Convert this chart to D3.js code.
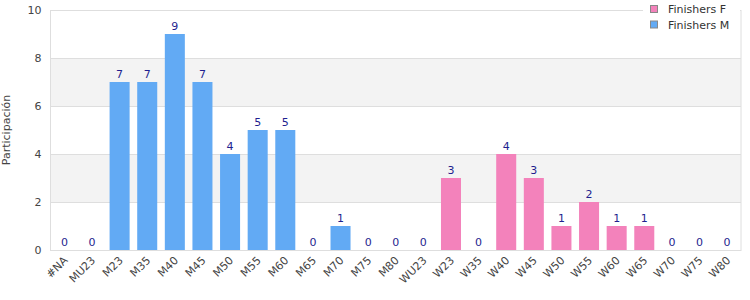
<!DOCTYPE html>
<html><head><meta charset="utf-8">
<script src="https://cdn.jsdelivr.net/npm/d3@7"></script>
<style>body{margin:0;background:#fff}svg{display:block;font-family:"DejaVu Sans",sans-serif}</style>
</head><body><svg id="c" width="750" height="300"></svg>
<script>
const categories = ["#NA","MU23","M23","M35","M40","M45","M50","M55","M60","M65","M70","M75","M80","WU23","W23","W35","W40","W45","W50","W55","W60","W65","W70","W75","W80"];
const finishersM = [0,0,7,7,9,7,4,5,5,0,1,0,0,null,null,null,null,null,null,null,null,null,null,null,null];
const finishersF = [null,null,null,null,null,null,null,null,null,null,null,null,null,0,3,0,4,3,1,2,1,1,0,0,0];
const yTicks = [0,2,4,6,8,10];
const seriesNames = ["Finishers F","Finishers M"];
const colors = {"Finishers F":"#f382bb","Finishers M":"#62aaf4"};

const svg = d3.select("#c");
const m = {l:50.5, r:741, t:10, b:250};
const x = d3.scaleBand().domain(categories).range([m.l, m.r]).paddingInner(0.275).paddingOuter(0.14);
const y = d3.scaleLinear().domain([0,10]).range([m.b, m.t]);

// bands
for (let i = 0; i < yTicks.length-1; i++) {
  if (i % 2 === 1) {
    svg.append("rect").attr("x", m.l).attr("width", m.r-m.l)
      .attr("y", y(yTicks[i+1])).attr("height", y(yTicks[i]) - y(yTicks[i+1]))
      .attr("fill", "#f3f3f3");
  }
}
// gridlines
svg.append("g").selectAll("line").data(yTicks).join("line")
  .attr("x1", m.l).attr("x2", m.r).attr("y1", d => Math.round(y(d))+0.5).attr("y2", d => Math.round(y(d))+0.5)
  .attr("stroke", "#dedede");
// plot border
svg.append("rect").attr("x", m.l).attr("y", m.t+0.5).attr("width", m.r-m.l).attr("height", m.b-m.t)
  .attr("fill","none").attr("stroke","#dedede");

// y axis labels
const yAxis = d3.axisLeft(y).tickValues(yTicks).tickSize(0).tickPadding(9);
const yg = svg.append("g").attr("transform", `translate(${m.l},0)`).call(yAxis);
yg.select(".domain").remove();
yg.selectAll("text").attr("font-size", 11).attr("fill", "#444").attr("font-family", "DejaVu Sans, sans-serif");

// x axis labels
const xAxis = d3.axisBottom(x).tickSize(0).tickPadding(0);
const xg = svg.append("g").attr("transform", `translate(0,${m.b})`).call(xAxis);
xg.select(".domain").remove();
xg.selectAll("text").attr("font-size", 11).attr("fill", "#444").attr("font-family", "DejaVu Sans, sans-serif")
  .attr("text-anchor", "end").attr("dy", null).attr("y", 0)
  .attr("transform", "translate(4,11) rotate(-45)");

// y title
svg.append("text").attr("transform", `translate(9.5,${(m.t+m.b)/2}) rotate(-90)`)
  .attr("text-anchor","middle").attr("font-size", 11).attr("fill", "#444").text("Participación");

// bars
const series = [{name:"Finishers F", vals: finishersF}, {name:"Finishers M", vals: finishersM}];
series.forEach(s => {
  const data = categories.map((c,i) => ({c, v: s.vals[i]})).filter(d => d.v !== null);
  svg.append("g").selectAll("rect").data(data.filter(d => d.v > 0)).join("rect")
    .attr("x", d => x(d.c)).attr("width", x.bandwidth())
    .attr("y", d => y(d.v)).attr("height", d => y(0) - y(d.v))
    .attr("fill", colors[s.name]);
  svg.append("g").selectAll("text").data(data).join("text")
    .attr("x", d => x(d.c) + x.bandwidth()/2).attr("y", d => y(d.v) - 4)
    .attr("text-anchor","middle").attr("font-size", 11).attr("fill", "#1f1f8f").text(d => d.v);
});

// legend
const lg = svg.append("g");
lg.append("rect").attr("x", 643).attr("y", 0).attr("width", 97).attr("height", 35).attr("fill", "#fff");
seriesNames.forEach((n,i) => {
  lg.append("rect").attr("x", 650.5).attr("y", 5.5 + i*15.5).attr("width", 7).attr("height", 7)
    .attr("fill", colors[n]).attr("stroke", "#888");
  lg.append("text").attr("x", 668).attr("y", 13 + i*15.5).attr("font-size", 11).attr("fill", "#333").text(n);
});
</script></body></html>
